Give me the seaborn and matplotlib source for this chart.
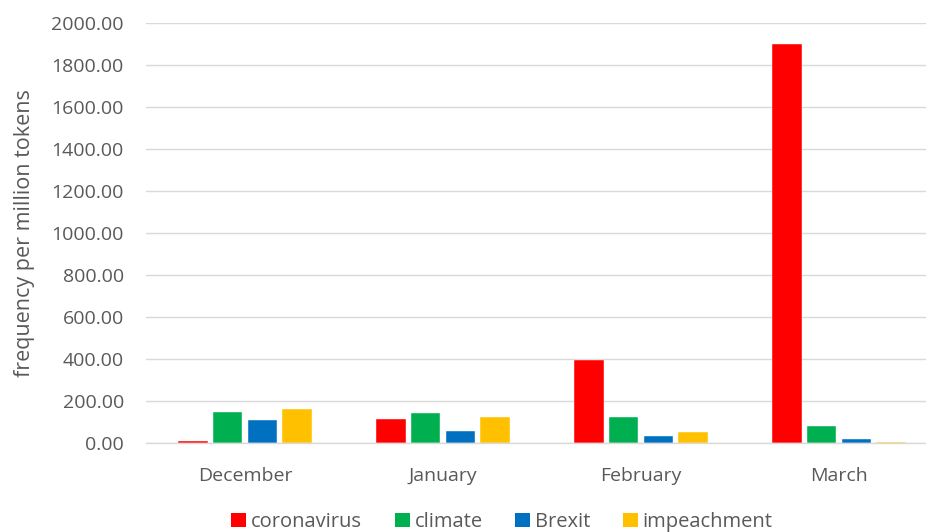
import matplotlib
matplotlib.use("Agg")
import matplotlib.pyplot as plt
import seaborn as sns
import pandas as pd
from matplotlib.ticker import FormatStrFormatter, MultipleLocator
from matplotlib.patches import Patch

months = ["December", "January", "February", "March"]
series = ["coronavirus", "climate", "Brexit", "impeachment"]
coronavirus = [8, 113, 395, 1900]
climate = [148, 141, 125, 80]
brexit = [108, 56, 33, 18]
impeachment = [160, 125, 51, 6]
colors = ["#FF0000", "#00B050", "#0070C0", "#FFC000"]

rows = []
for s, vals in zip(series, [coronavirus, climate, brexit, impeachment]):
    for m, v in zip(months, vals):
        rows.append({"month": m, "term": s, "value": v})
df = pd.DataFrame(rows)

sns.set_theme(style="white")
plt.rcParams["font.family"] = ["Open Sans", "DejaVu Sans"]

fig = plt.figure(figsize=(9.26, 5.32), dpi=100)
ax = fig.add_axes([146/926, 1-443/532, 792/926, 420/532])

sns.barplot(data=df, x="month", y="value", hue="term", order=months, hue_order=series,
            palette=colors, saturation=1, width=0.70, gap=0.16, ax=ax,
            edgecolor="white", linewidth=0.3, legend=False)

ax.set_xlim(-0.5, 3.5)
ax.set_ylim(0, 2000)
ax.yaxis.set_major_locator(MultipleLocator(200))
ax.yaxis.set_major_formatter(FormatStrFormatter("%.2f"))
ax.grid(axis="y", color="#D9D9D9", linewidth=1)
ax.set_axisbelow(True)
for sp in ["top", "right", "left"]:
    ax.spines[sp].set_visible(False)
ax.spines["bottom"].set_color("#D9D9D9")
ax.spines["bottom"].set_linewidth(1)
ax.tick_params(axis="both", length=0, labelsize=14, colors="#595959")
ax.tick_params(axis="x", pad=17)
ax.tick_params(axis="y", pad=16)
ax.set_xlabel("")
ax.set_ylabel("frequency per million tokens", fontsize=15.5, color="#595959", labelpad=12)

handles = [Patch(facecolor=c, edgecolor="none") for c in colors]
fig.legend(handles, series, loc="center", bbox_to_anchor=(502/926, 1-522/532), ncol=4,
           frameon=False, fontsize=14.5, handlelength=0.75, handleheight=0.75,
           handletextpad=0.25, columnspacing=1.6, labelcolor="#595959")

fig.savefig("out.png", dpi=100)
